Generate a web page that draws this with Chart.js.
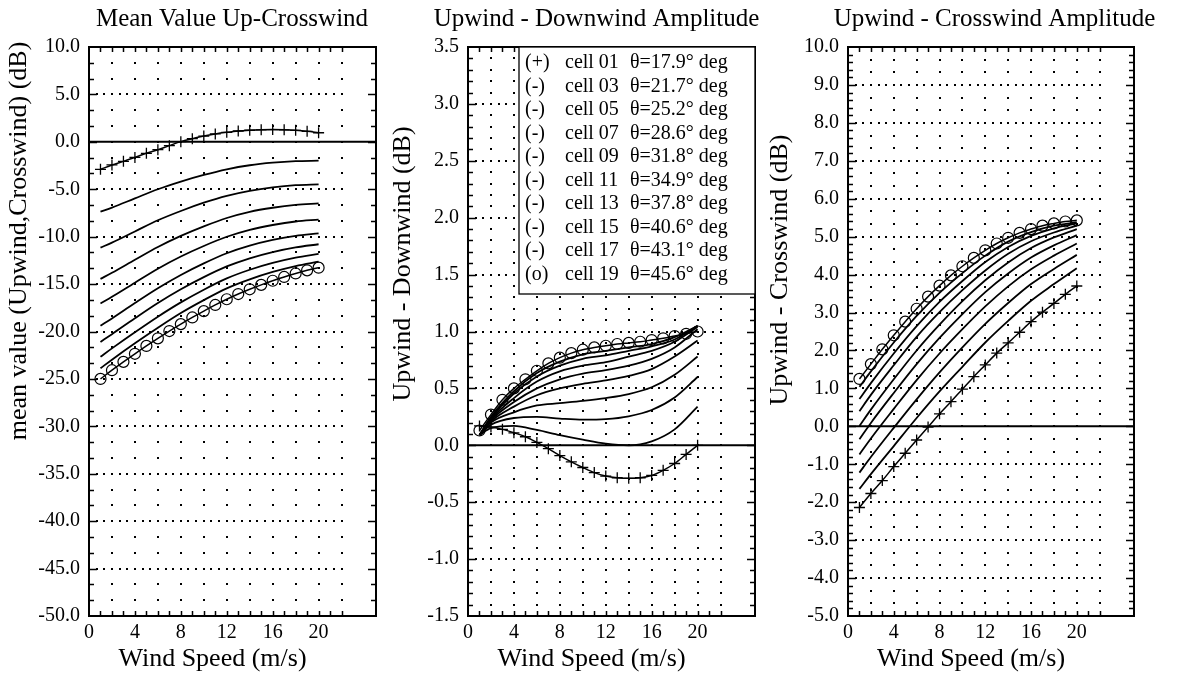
<!DOCTYPE html>
<html>
<head>
<meta charset="utf-8">
<script src="https://cdn.jsdelivr.net/npm/chart.js@4.4.0/dist/chart.umd.min.js"></script>
<style>
html,body{margin:0;padding:0;background:#fff;overflow:hidden;}
#wrap{position:relative;width:1177px;height:681px;overflow:hidden;background:#fff;}
canvas{position:absolute;top:0;}
</style>
</head>
<body>
<div id="wrap">
<canvas id="c1" width="464" height="681" style="left:0px"></canvas>
<canvas id="c2" width="423" height="681" style="left:385px"></canvas>
<canvas id="c3" width="469" height="681" style="left:760px"></canvas>
</div>
<script>
// ---------- data ----------
const windSpeed = [1,2,3,4,5,6,7,8,9,10,11,12,13,14,15,16,17,18,19,20];
const windSpeedLine = [1,2,4,6,8,10,12,14,16,18,20];

const cellMarks  = ['(+)','(-)','(-)','(-)','(-)','(-)','(-)','(-)','(-)','(o)'];
const cellLabels = ['cell 01','cell 03','cell 05','cell 07','cell 09','cell 11','cell 13','cell 15','cell 17','cell 19'];
const cellAngles = ['θ=17.9° deg','θ=21.7° deg','θ=25.2° deg','θ=28.6° deg','θ=31.8° deg','θ=34.9° deg','θ=37.8° deg','θ=40.6° deg','θ=43.1° deg','θ=45.6° deg'];

const xTickLabels = [0,4,8,12,16,20];

// Panel 1: mean value (Upwind,Crosswind) (dB)
const mean01 = [-2.90,-2.44,-2.06,-1.64,-1.21,-0.83,-0.40,0.02,0.33,0.61,0.83,1.00,1.14,1.22,1.27,1.29,1.27,1.21,1.11,0.96];
const mean03 = [-7.36,-6.93,-5.96,-5.00,-4.19,-3.49,-2.90,-2.47,-2.20,-2.04,-1.99];
const mean05 = [-11.16,-10.63,-9.45,-8.27,-7.29,-6.42,-5.69,-5.16,-4.80,-4.57,-4.48];
const mean07 = [-14.45,-13.81,-12.44,-11.09,-9.92,-8.91,-8.03,-7.38,-6.95,-6.65,-6.50];
const mean09 = [-17.05,-16.34,-14.85,-13.38,-12.09,-10.98,-10.01,-9.28,-8.77,-8.40,-8.20];
const mean11 = [-19.40,-18.62,-17.00,-15.44,-14.04,-12.82,-11.75,-10.95,-10.35,-9.91,-9.65];
const mean13 = [-21.10,-20.28,-18.61,-17.00,-15.55,-14.27,-13.14,-12.28,-11.62,-11.13,-10.80];
const mean15 = [-22.66,-21.78,-20.08,-18.44,-16.93,-15.59,-14.40,-13.49,-12.77,-12.21,-11.82];
const mean17 = [-23.88,-22.97,-21.24,-19.60,-18.05,-16.69,-15.45,-14.50,-13.72,-13.10,-12.64];
const mean19 = [-25.00,-24.08,-23.20,-22.35,-21.52,-20.72,-19.95,-19.22,-18.52,-17.85,-17.20,-16.60,-16.05,-15.55,-15.08,-14.65,-14.25,-13.88,-13.55,-13.27];

// Panel 2: Upwind - Downwind amplitude (dB)
const ud01 = [0.17,0.16,0.14,0.11,0.075,0.025,-0.03,-0.09,-0.145,-0.195,-0.24,-0.27,-0.285,-0.29,-0.285,-0.265,-0.22,-0.16,-0.08,0.00];
const ud03 = [0.09,0.15,0.17,0.135,0.09,0.05,0.015,0.00,0.035,0.14,0.34];
const ud05 = [0.09,0.18,0.24,0.25,0.235,0.225,0.23,0.255,0.31,0.42,0.60];
const ud07 = [0.09,0.20,0.29,0.35,0.37,0.39,0.415,0.45,0.51,0.62,0.78];
const ud09 = [0.09,0.21,0.34,0.44,0.50,0.54,0.57,0.61,0.67,0.78,0.92];
const ud11 = [0.09,0.22,0.38,0.50,0.58,0.63,0.66,0.70,0.76,0.86,1.02];
const ud13 = [0.09,0.23,0.415,0.56,0.65,0.70,0.73,0.78,0.83,0.91,1.04];
const ud15 = [0.09,0.24,0.455,0.605,0.70,0.76,0.79,0.83,0.87,0.93,1.05];
const ud17 = [0.09,0.25,0.475,0.635,0.735,0.80,0.83,0.86,0.89,0.95,1.05];
const ud19 = [0.13,0.27,0.40,0.50,0.58,0.655,0.72,0.77,0.81,0.84,0.86,0.875,0.89,0.90,0.91,0.925,0.94,0.96,0.98,1.00];

// Panel 3: Upwind - Crosswind amplitude (dB)
const uc01 = [-2.14,-1.77,-1.43,-1.06,-0.71,-0.36,-0.02,0.33,0.65,0.98,1.31,1.62,1.93,2.20,2.48,2.76,3.01,3.24,3.48,3.70];
const uc03 = [-1.65,-1.26,-0.52,0.22,0.92,1.57,2.21,2.78,3.31,3.75,4.17];
const uc05 = [-1.22,-0.81,-0.04,0.71,1.42,2.08,2.70,3.25,3.75,4.15,4.52];
const uc07 = [-0.74,-0.32,0.46,1.22,1.92,2.56,3.16,3.69,4.14,4.50,4.82];
const uc09 = [-0.34,0.09,0.88,1.64,2.33,2.96,3.54,4.03,4.45,4.77,5.04];
const uc11 = [0.01,0.44,1.24,2.00,2.68,3.30,3.85,4.32,4.70,4.98,5.20];
const uc13 = [0.40,0.83,1.61,2.36,3.01,3.59,4.11,4.55,4.88,5.11,5.29];
const uc15 = [0.72,1.14,1.92,2.64,3.28,3.83,4.33,4.73,5.02,5.22,5.35];
const uc17 = [1.04,1.45,2.21,2.91,3.52,4.04,4.50,4.87,5.12,5.29,5.38];
const uc19 = [1.25,1.64,2.03,2.40,2.76,3.10,3.42,3.71,3.98,4.22,4.44,4.64,4.82,4.97,5.10,5.20,5.29,5.35,5.40,5.43];

// ---------- rendering ----------
const FONT = "'Liberation Serif', 'Times New Roman', serif";
Chart.defaults.font.family = FONT;
Chart.defaults.color = '#000';

function pairs(xs, ys) { return xs.map((x, i) => ({x: x, y: ys[i]})); }

function buildDatasets(first, middle, last) {
  const ds = [];
  ds.push({
    label: cellMarks[0] + ' ' + cellLabels[0] + ' ' + cellAngles[0],
    data: pairs(windSpeed, first), yAxisID: 'y',
    borderColor: '#000', borderWidth: 1.5, cubicInterpolationMode: 'monotone',
    pointStyle: 'cross', pointRadius: 5.5, pointBorderColor: '#000', pointBorderWidth: 1.3,
    pointBackgroundColor: 'rgba(0,0,0,0)'
  });
  middle.forEach((arr, i) => {
    ds.push({
      label: cellMarks[i + 1] + ' ' + cellLabels[i + 1] + ' ' + cellAngles[i + 1],
      data: pairs(windSpeedLine, arr), yAxisID: 'y',
      borderColor: '#000', borderWidth: 1.8, cubicInterpolationMode: 'monotone',
      pointRadius: 0
    });
  });
  ds.push({
    label: cellMarks[9] + ' ' + cellLabels[9] + ' ' + cellAngles[9],
    data: pairs(windSpeed, last), yAxisID: 'y',
    borderColor: '#000', borderWidth: 1.5, cubicInterpolationMode: 'monotone',
    pointStyle: 'circle', pointRadius: 5.5, pointBorderColor: '#000', pointBorderWidth: 1.2,
    pointBackgroundColor: 'rgba(0,0,0,0)'
  });
  return ds;
}

const paperPlugin = {
  id: 'paper',
  beforeDatasetsDraw(chart, args, o) {
    const ctx = chart.ctx, a = chart.chartArea;
    const xs = chart.scales.x, ys = chart.scales.y;
    ctx.save();
    ctx.fillStyle = '#000';
    // vertical dotted grid lines
    const nY = Math.round((ys.max - ys.min) / o.dotY);
    for (const gx of o.gridX) {
      const px = Math.round(xs.getPixelForValue(gx));
      for (let k = 1; k < nY; k++) {
        const py = Math.round(ys.getPixelForValue(ys.min + k * o.dotY));
        ctx.fillRect(px - 1, py - 1, 2, 2);
      }
    }
    // horizontal dotted grid lines at major ticks
    const nM = Math.round((ys.max - ys.min) / o.majorY);
    const nX = Math.round(o.rowEnd / o.dotX);
    for (let j = 1; j < nM; j++) {
      const v = ys.min + j * o.majorY;
      if (Math.abs(v) < 1e-9) continue;
      const py = Math.round(ys.getPixelForValue(v));
      for (let k = 1; k <= nX; k++) {
        const px = Math.round(xs.getPixelForValue(k * o.dotX));
        ctx.fillRect(px - 1, py - 1, 2, 2);
      }
    }
    // zero line
    const y0 = ys.getPixelForValue(0);
    ctx.strokeStyle = '#000';
    ctx.lineWidth = 2;
    ctx.beginPath(); ctx.moveTo(a.left, y0); ctx.lineTo(a.right, y0); ctx.stroke();
    ctx.restore();
  },
  afterDatasetsDraw(chart, args, o) {
    const ctx = chart.ctx, a = chart.chartArea;
    const xs = chart.scales.x, ys = chart.scales.y;
    ctx.save();
    ctx.strokeStyle = '#000';
    ctx.lineWidth = 1.5;
    ctx.beginPath();
    for (let t = 1; t <= o.tickXEnd; t++) {
      const px = Math.round(xs.getPixelForValue(t)) + 0.5;
      ctx.moveTo(px, a.bottom); ctx.lineTo(px, a.bottom - 5);
      ctx.moveTo(px, a.top); ctx.lineTo(px, a.top + 5);
    }
    const nm = Math.round((ys.max - ys.min) / o.minorY);
    const per = Math.round(o.majorY / o.minorY);
    for (let k = 1; k < nm; k++) {
      const py = Math.round(ys.getPixelForValue(ys.min + k * o.minorY)) + 0.5;
      const len = (k % per === 0) ? 8 : 5;
      ctx.moveTo(a.left, py); ctx.lineTo(a.left + len, py);
      ctx.moveTo(a.right, py); ctx.lineTo(a.right - len, py);
    }
    ctx.stroke();
    ctx.lineWidth = 2;
    ctx.strokeRect(a.left, a.top, a.right - a.left, a.bottom - a.top);
    ctx.restore();
  },
  afterDraw(chart, args, o) {
    const ctx = chart.ctx, a = chart.chartArea;
    ctx.save();
    ctx.fillStyle = '#000';
    // legend
    if (o.legend) {
      const w = 236, h = 247;
      const x0 = a.right - w, y0 = a.top;
      ctx.fillStyle = '#fff';
      ctx.fillRect(x0, y0, w, h);
      ctx.strokeStyle = '#000';
      ctx.lineWidth = 1.3;
      ctx.strokeRect(x0, y0, w, h);
      ctx.fillStyle = '#000';
      ctx.font = '20px ' + FONT;
      ctx.textAlign = 'left';
      ctx.textBaseline = 'middle';
      for (let i = 0; i < cellLabels.length; i++) {
        const ry = y0 + 16 + i * 23.5;
        ctx.fillText(cellMarks[i], x0 + 6, ry);
        ctx.fillText(cellLabels[i], x0 + 46, ry);
        ctx.fillText(cellAngles[i], x0 + 111, ry);
      }
    }
    // axis titles
    ctx.font = '26px ' + FONT;
    ctx.textAlign = 'center';
    ctx.textBaseline = 'middle';
    ctx.fillText(o.xTitle, (a.left + a.right) / 2 + o.xTitleDx, o.xTitleY);
    ctx.translate(a.left - o.yTitleDx, o.yTitleY);
    ctx.rotate(-Math.PI / 2);
    ctx.fillText(o.yTitle, 0, 0);
    ctx.restore();
  }
};

function makePanel(id, cfg) {
  const tickFont = {family: FONT, size: 20};
  return new Chart(document.getElementById(id), {
    type: 'line',
    data: {datasets: buildDatasets(cfg.first, cfg.middle, cfg.last)},
    options: {
      responsive: false,
      animation: false,
      devicePixelRatio: 1,
      layout: {padding: 0, autoPadding: false},
      plugins: {
        legend: {display: false},
        tooltip: {enabled: false},
        title: {
          display: true, text: cfg.title, color: '#000',
          font: {family: FONT, size: 25, weight: 'normal'},
          padding: {top: 4, bottom: 13}
        },
        paper: {
          gridX: [2,4,6,8,10,12,14,16,18,20,22], dotX: 2/3, rowEnd: 22, tickXEnd: 22,
          dotY: cfg.dotY, majorY: cfg.step, minorY: cfg.minorY,
          legend: cfg.legend,
          xTitle: 'Wind Speed (m/s)', xTitleDx: -20, xTitleY: 659,
          yTitle: cfg.yTitle, yTitleDx: cfg.yTitleDx, yTitleY: cfg.yTitleY
        }
      },
      scales: {
        x: {
          type: 'linear', min: 0, max: 25,
          afterFit: s => { s.height = 65; },
          grid: {display: false, drawTicks: false},
          border: {display: false},
          ticks: {
            stepSize: 4, autoSkip: false, maxRotation: 0, minRotation: 0, padding: 5,
            color: '#000', font: tickFont,
            callback: v => xTickLabels.includes(v) ? String(v) : ''
          }
        },
        y: {
          type: 'linear', position: 'left', min: cfg.min, max: cfg.max,
          afterFit: s => { s.width = cfg.yWidth; },
          grid: {display: false, drawTicks: false},
          border: {display: false},
          ticks: {
            stepSize: cfg.step, autoSkip: false, padding: 9, color: '#000', font: tickFont,
            callback: v => Math.abs(v) < 1e-9 ? '0.0' : Number(v).toFixed(1)
          }
        },
        y2: {
          type: 'linear', position: 'right', display: true,
          afterFit: s => { s.width = cfg.rightWidth; },
          grid: {display: false, drawTicks: false},
          border: {display: false},
          ticks: {display: false}
        }
      }
    },
    plugins: [paperPlugin]
  });
}

makePanel('c1', {
  title: 'Mean Value Up-Crosswind',
  yTitle: 'mean value (Upwind,Crosswind) (dB)', yTitleDx: 70, yTitleY: 241,
  first: mean01, middle: [mean03, mean05, mean07, mean09, mean11, mean13, mean15, mean17], last: mean19,
  min: -50, max: 10, step: 5, minorY: 5/3, dotY: 5/3,
  yWidth: 89, rightWidth: 88, legend: false
});

makePanel('c2', {
  title: 'Upwind - Downwind Amplitude',
  yTitle: 'Upwind - Downwind (dB)', yTitleDx: 65, yTitleY: 264,
  first: ud01, middle: [ud03, ud05, ud07, ud09, ud11, ud13, ud15, ud17], last: ud19,
  min: -1.5, max: 3.5, step: 0.5, minorY: 0.1, dotY: 0.1,
  yWidth: 83, rightWidth: 53, legend: true
});

makePanel('c3', {
  title: 'Upwind - Crosswind Amplitude',
  yTitle: 'Upwind - Crosswind (dB)', yTitleDx: 68, yTitleY: 270,
  first: uc01, middle: [uc03, uc05, uc07, uc09, uc11, uc13, uc15, uc17], last: uc19,
  min: -5, max: 10, step: 1, minorY: 0.2, dotY: 1/3,
  yWidth: 88, rightWidth: 95, legend: false
});
</script>
</body>
</html>
